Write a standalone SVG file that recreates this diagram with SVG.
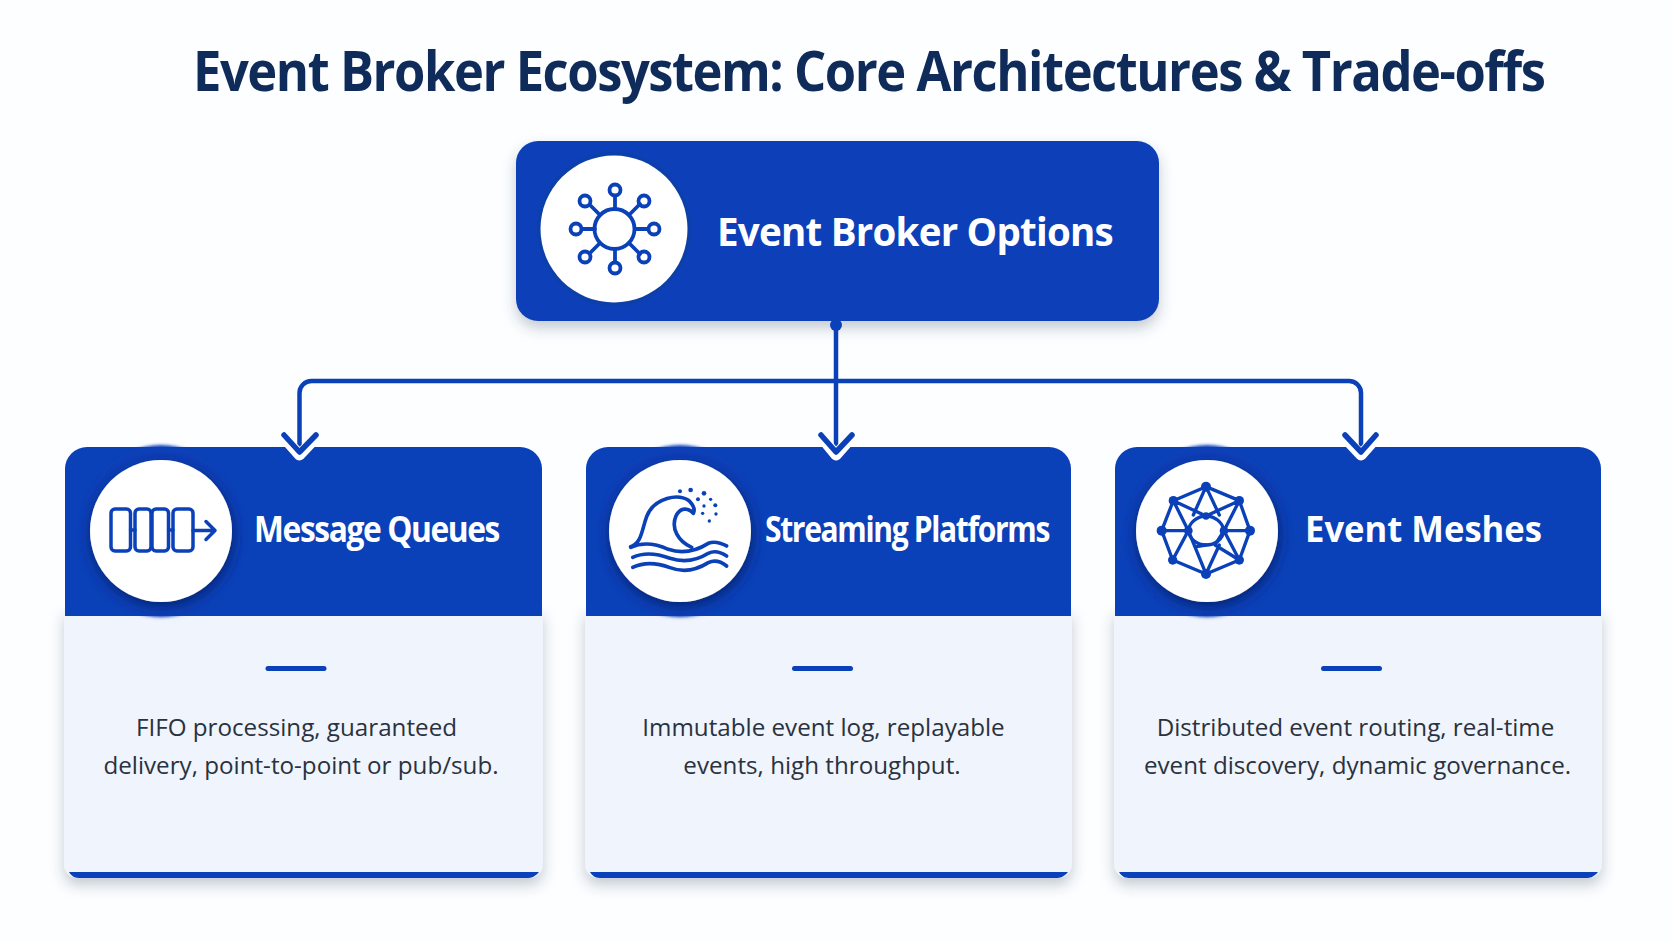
<svg xmlns="http://www.w3.org/2000/svg" width="1672" height="941" viewBox="0 0 1672 941">
<style>
.t{font-family:"Open Sans","Noto Sans","Liberation Sans",sans-serif}
.title{font-size:56px;font-weight:700;fill:#0f2b5a;letter-spacing:-1.6px}
.head{font-size:36px;font-weight:700;fill:#fff}
.tight{letter-spacing:-1.6px}
.main{font-size:40px;font-weight:700;fill:#fff;letter-spacing:-.8px}
.body{font-size:24.2px;font-weight:400;fill:#2a3240;text-anchor:middle}
.blue{fill:#0a41b8}
.pale{fill:#f0f4fc}
.ic{fill:none;stroke:#0a41b8;stroke-linecap:round;stroke-linejoin:round}
.conn{fill:none;stroke:#0a41b8;stroke-width:4.5;stroke-linejoin:round}
.halo{fill:none;stroke:#fff;stroke-width:11;stroke-linecap:round;stroke-linejoin:round}
.head-c{fill:none;stroke:#0a41b8;stroke-width:5.5;stroke-linecap:round;stroke-linejoin:round}
.dot{fill:#0a41b8}
</style>
<defs>
<filter id="sh" x="-10%" y="-10%" width="120%" height="125%"><feDropShadow dx="0" dy="7" stdDeviation="7" flood-color="#33415f" flood-opacity=".28"/></filter>
<filter id="csh" x="-30%" y="-30%" width="160%" height="160%"><feDropShadow dx="1" dy="4" stdDeviation="7" flood-color="#04236e" flood-opacity="1"/></filter>
<filter id="gl" x="-30%" y="-30%" width="160%" height="160%"><feGaussianBlur stdDeviation="1.500"/></filter>
</defs>
<rect width="1672" height="941" fill="#fdfeff"/>
<text class="t title" transform="translate(193 91) scale(.905 1)">Event Broker Ecosystem: Core Architectures &amp; Trade-offs</text>

<g id="node-root">
<rect class="blue" x="516" y="141" width="643" height="180" rx="22" filter="url(#sh)"/>
<circle cx="614" cy="229" r="77" fill="#0d3fa8"/>
<circle cx="614" cy="229" r="73.500" fill="#fff"/>
<g class="ic" stroke-width="3.800">
<circle cx="614.500" cy="229" r="20"/>
<path d="M615 209V196M615 249V262M595 229H582M635 229H648M600 215L591 206M629 215L640 204M600 243L591 252M629 243L640 254"/>
<circle cx="615" cy="190" r="5.500"/><circle cx="615" cy="268" r="5.500"/><circle cx="576" cy="229" r="5.500"/><circle cx="654" cy="229" r="5.500"/>
<circle cx="585" cy="201" r="5.500"/><circle cx="644" cy="201" r="5.500"/><circle cx="585" cy="257" r="5.500"/><circle cx="644" cy="257" r="5.500"/>
</g>
<text class="t main" x="717" y="245.500" textLength="396" lengthAdjust="spacingAndGlyphs">Event Broker Options</text>
</g>

<g id="node-queues">
<path class="pale" d="M64 610H543V864a14 14 0 0 1-14 14H78a14 14 0 0 1-14-14Z" filter="url(#sh)"/>
<path class="blue" d="M69 872H539C535 877 531 878 527 878H81C75 878 72 877 69 872Z"/>
<path class="blue" d="M65 616V469a22 22 0 0 1 22-22H520a22 22 0 0 1 22 22V616Z"/>
<ellipse cx="161" cy="531" rx="80" ry="86" class="blue" filter="url(#gl)"/>
<circle cx="161" cy="531" r="71" fill="#fff" filter="url(#csh)"/>
<g transform="translate(1 0)"><g class="ic" stroke-width="3.500">
<rect x="110" y="509" width="19.500" height="42" rx="4"/><rect x="134" y="509" width="16" height="42" rx="4"/><rect x="151" y="509" width="16.500" height="42" rx="4"/><rect x="172" y="509" width="20" height="42" rx="4"/>
<path d="M129.500 530H134M167.500 530H172M192 530.500H213M205 521.500L214 530.500L205 539.500"/>
</g></g>
<text class="t head tight" x="254" y="541.500" textLength="245" lengthAdjust="spacingAndGlyphs">Message Queues</text>
<rect class="blue" x="265.500" y="666" width="61" height="5" rx="2.500"/>
<text class="t body" x="296.500" y="736">FIFO processing, guaranteed</text>
<text class="t body" x="301" y="774">delivery, point-to-point or pub/sub.</text>
</g>

<g id="node-streaming">
<path class="pale" d="M585 610H1072V864a14 14 0 0 1-14 14H599a14 14 0 0 1-14-14Z" filter="url(#sh)"/>
<path class="blue" d="M590 872H1068C1064 877 1060 878 1056 878H602C596 878 593 877 590 872Z"/>
<path class="blue" d="M586 616V469a22 22 0 0 1 22-22H1049a22 22 0 0 1 22 22V616Z"/>
<ellipse cx="680" cy="531" rx="80" ry="86" class="blue" filter="url(#gl)"/>
<circle cx="680" cy="531" r="71" fill="#fff" filter="url(#csh)"/>
<g transform="translate(580 430) scale(.3333 .3333)">
<g class="ic" stroke-width="11">
<path d="M152 350C185 340 185 300 200 260C220 205 300 185 330 215C342 228 345 240 340 250C325 232 300 232 288 258C272 295 295 335 335 352"/>
<path d="M152 352C190 335 225 340 265 358C305 372 345 365 385 340C405 332 425 340 440 348"/>
<path d="M158 382C195 365 230 370 270 385C310 398 350 392 385 370C405 360 425 368 440 378"/>
<path d="M158 412C195 395 230 398 270 413C310 428 350 420 385 398C405 388 425 396 440 408"/>
</g>
<g class="dot">
<circle cx="300" cy="184" r="6"/><circle cx="332" cy="180" r="7"/><circle cx="372" cy="190" r="7"/><circle cx="354" cy="208" r="6"/><circle cx="392" cy="208" r="5"/><circle cx="372" cy="228" r="5"/><circle cx="406" cy="226" r="6"/><circle cx="368" cy="250" r="5"/><circle cx="408" cy="252" r="5"/><circle cx="388" cy="273" r="5"/>
</g>
</g>
<text class="t head tight" x="765" y="541.500" textLength="284" lengthAdjust="spacingAndGlyphs">Streaming Platforms</text>
<rect class="blue" x="792" y="666" width="61" height="5" rx="2.500"/>
<text class="t body" x="823.500" y="736">Immutable event log, replayable</text>
<text class="t body" x="822" y="774">events, high throughput.</text>
</g>

<g id="node-meshes">
<path class="pale" d="M1114 610H1602V864a14 14 0 0 1-14 14H1128a14 14 0 0 1-14-14Z" filter="url(#sh)"/>
<path class="blue" d="M1119 872H1598C1594 877 1590 878 1586 878H1131C1125 878 1122 877 1119 872Z"/>
<path class="blue" d="M1115 616V469a22 22 0 0 1 22-22H1579a22 22 0 0 1 22 22V616Z"/>
<ellipse cx="1207" cy="531" rx="80" ry="86" class="blue" filter="url(#gl)"/>
<circle cx="1207" cy="531" r="71" fill="#fff" filter="url(#csh)"/>
<g transform="translate(1100 430) scale(.3333 .3333)">
<g class="ic" stroke-width="10">
<path d="M318 170L418 212L450 302L418 390L318 432L218 390L185 302L220 212Z"/>
<path d="M220 212L265 302L218 390M418 212L372 302L418 390M220 212L318 258L418 212M318 170L280 255M318 170L358 255M185 302H265M372 302H450"/>
<path d="M265 302C268 278 292 258 318 258C345 258 368 278 372 302C368 328 345 345 318 345C292 345 268 328 265 302Z"/>
<path d="M265 302L318 432L358 345M372 302L345 345L418 390M290 350L318 345"/>
</g>
<g class="dot">
<circle cx="318" cy="170" r="15"/><circle cx="418" cy="212" r="14"/><circle cx="450" cy="302" r="15"/><circle cx="418" cy="390" r="14"/><circle cx="318" cy="432" r="15"/><circle cx="218" cy="390" r="14"/><circle cx="185" cy="302" r="15"/><circle cx="220" cy="212" r="14"/><circle cx="265" cy="302" r="13"/><circle cx="372" cy="302" r="13"/><circle cx="318" cy="258" r="11"/>
</g>
</g>
<text class="t head" x="1305" y="541.500" textLength="237" lengthAdjust="spacingAndGlyphs">Event Meshes</text>
<rect class="blue" x="1321" y="666" width="61" height="5" rx="2.500"/>
<text class="t body" x="1355.500" y="736">Distributed event routing, real-time</text>
<text class="t body" x="1357.500" y="774">event discovery, dynamic governance.</text>
</g>

<g id="connectors">
<circle class="dot" cx="836" cy="325" r="6"/>
<path class="conn" d="M836 325V454"/>
<path class="conn" d="M299.500 454V393a12 12 0 0 1 12-12H1349a12 12 0 0 1 12 12V454"/>
<path class="halo" d="M284.500 438L299.500 455L315.500 438M822 438L836 455L851 438M1345 438L1361 455L1376 438"/>
<path class="head-c" d="M284 435L299.500 452L316 435M821 435L836 452L852 435M1345 435L1361 452L1376 435"/>
</g>
</svg>
